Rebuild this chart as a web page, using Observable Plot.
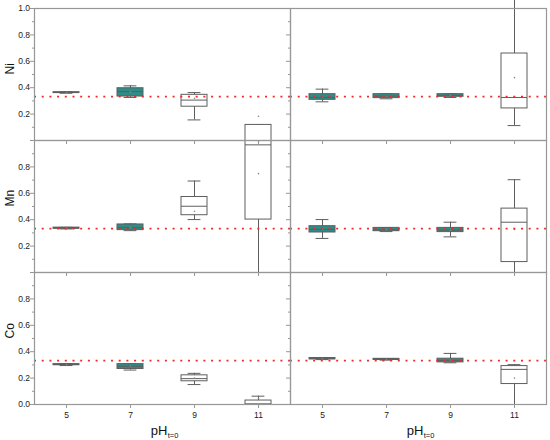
<!DOCTYPE html>
<html><head><meta charset="utf-8">
<script src="https://cdn.jsdelivr.net/npm/d3@7"></script>
<script src="https://cdn.jsdelivr.net/npm/@observablehq/plot@0.6"></script>
<style>body{margin:0;background:#fff} #chart{width:550px;height:440px;overflow:hidden}</style>
</head><body><div id="chart"></div>
<script>
const phLevels = ["5", "7", "9", "11"];
const elements = ["Ni", "Mn", "Co"];
const panels = ["left", "right"];
const refValue = 0.333;

// per pH: [lowWhisker, q1, median, q3, highWhisker, mean]
const niLeft = [
  [0.358, 0.360, 0.363, 0.366, 0.368, 0.363],
  [0.326, 0.333, 0.371, 0.396, 0.414, 0.368],
  [0.156, 0.256, 0.306, 0.346, 0.363, 0.320],
  null
];
const niRight = [
  [0.293, 0.308, 0.326, 0.351, 0.389, 0.330],
  [0.316, 0.321, 0.336, 0.351, 0.353, 0.335],
  [0.326, 0.331, 0.343, 0.351, 0.353, 0.342],
  [0.113, 0.243, 0.326, 0.659, 1.080, 0.476]
];
const mnLeft = [
  [0.330, 0.332, 0.336, 0.340, 0.342, 0.336],
  [0.317, 0.321, 0.340, 0.364, 0.368, 0.340],
  [0.401, 0.434, 0.502, 0.572, 0.693, 0.464],
  [0.000, 0.401, 0.967, 1.118, 1.118, 0.749]
];
const mnRight = [
  [0.258, 0.303, 0.326, 0.351, 0.401, 0.330],
  [0.310, 0.313, 0.323, 0.338, 0.340, 0.325],
  [0.270, 0.306, 0.321, 0.338, 0.381, 0.320],
  [0.000, 0.079, 0.381, 0.484, 0.703, 0.326]
];
const coLeft = [
  [0.295, 0.298, 0.302, 0.306, 0.310, 0.302],
  [0.261, 0.269, 0.290, 0.306, 0.308, 0.290],
  [0.151, 0.176, 0.196, 0.221, 0.236, 0.200],
  [0.000, 0.000, 0.003, 0.030, 0.063, 0.045]
];
const coRight = [
  [0.340, 0.342, 0.347, 0.352, 0.354, 0.347],
  [0.336, 0.338, 0.342, 0.346, 0.348, 0.342],
  [0.316, 0.319, 0.334, 0.347, 0.387, 0.335],
  [0.000, 0.155, 0.266, 0.291, 0.302, 0.200]
];
const boxFillLeft = ["teal", "teal", "white", "white"];
const boxFillRight = ["teal", "teal", "teal", "white"];

// extra single markers (max / percentile points)
const extraElement = ["Mn", "Mn"];
const extraPanel = ["left", "left"];
const extraPh = ["11", "11"];
const extraValue = [1.183, 0.99];

const majorTicks = [0, 0.2, 0.4, 0.6, 0.8, 1.0];
const minorTicks = [0.1, 0.3, 0.5, 0.7, 0.9];
const niTickLabels = ["0.2", "0.4", "0.6", "0.8", "1.0"];
const mnTickLabels = ["0.2", "0.4", "0.6", "0.8"];
const coTickLabels = ["0.0", "0.2", "0.4", "0.6", "0.8"];

const TEAL = "#2f8c87";
const groups = [
  ["Ni", "left", niLeft, boxFillLeft], ["Ni", "right", niRight, boxFillRight],
  ["Mn", "left", mnLeft, boxFillLeft], ["Mn", "right", mnRight, boxFillRight],
  ["Co", "left", coLeft, boxFillLeft], ["Co", "right", coRight, boxFillRight]
];
const boxes = [];
for (const [element, panel, stats, fills] of groups) {
  stats.forEach((s, i) => {
    if (!s) return;
    boxes.push({element, panel, ph: phLevels[i], lo: s[0], q1: s[1], med: s[2], q3: s[3], hi: s[4], mean: s[5],
      fill: fills[i] === "teal" ? TEAL : "white"});
  });
}
const extras = extraValue.map((v, i) => ({element: extraElement[i], panel: extraPanel[i], ph: extraPh[i], v}));
const yLabels = [
  ...niTickLabels.map(l => ({element: "Ni", panel: "left", v: +l, label: l})),
  ...mnTickLabels.map(l => ({element: "Mn", panel: "left", v: +l, label: l})),
  ...coTickLabels.map(l => ({element: "Co", panel: "left", v: +l, label: l}))
];

const GRAY = "#979797";
const BOXSTROKE = "#5e5e5e";
const chart = Plot.plot({
  width: 550, height: 440,
  marginTop: 7, marginBottom: 36, marginLeft: 33, marginRight: 4,
  style: {fontFamily: "'Liberation Sans', Arial, sans-serif", background: "white", overflow: "visible"},
  fx: {domain: panels, padding: 0, axis: null},
  fy: {domain: elements, padding: 0, axis: null},
  x: {type: "band", domain: phLevels, paddingInner: 0.6, paddingOuter: 0.3, axis: null},
  y: {domain: [0, 1], axis: null},
  marks: [
    Plot.ruleX(boxes, {fx: "panel", fy: "element", x: "ph", y1: "lo", y2: "hi", stroke: BOXSTROKE, strokeWidth: 1}),
    Plot.tickY(boxes, {fx: "panel", fy: "element", x: "ph", y: "lo", stroke: BOXSTROKE, inset: 6.6}),
    Plot.tickY(boxes, {fx: "panel", fy: "element", x: "ph", y: "hi", stroke: BOXSTROKE, inset: 6.6}),
    Plot.barY(boxes, {fx: "panel", fy: "element", x: "ph", y1: "q1", y2: "q3", fill: "fill", stroke: BOXSTROKE, strokeWidth: 1}),
    Plot.tickY(boxes, {fx: "panel", fy: "element", x: "ph", y: "med", stroke: BOXSTROKE, strokeWidth: 1}),
    Plot.dot(boxes, {fx: "panel", fy: "element", x: "ph", y: "mean", r: 0.8, fill: "#888", stroke: null}),
    Plot.dot(extras, {fx: "panel", fy: "element", x: "ph", y: "v", r: 0.8, fill: "#888", stroke: null}),
    Plot.ruleY([refValue], {stroke: "#ee2b2b", strokeWidth: 1.8, strokeDasharray: "2,5.7"}),
    Plot.axisY(majorTicks, {facetAnchor: null, anchor: "left", tickSize: 4, fill: "none", stroke: GRAY, label: null}),
    Plot.axisY(minorTicks, {facetAnchor: null, anchor: "left", tickSize: 2, fill: "none", stroke: GRAY, label: null}),
    Plot.axisX({facetAnchor: null, anchor: "bottom", tickSize: 4, fill: "none", stroke: GRAY, label: null}),
    Plot.axisX({facetAnchor: "bottom", anchor: "bottom", tickSize: 0, tickPadding: 7, fontSize: 8.5, fill: "#222", label: null}),
    Plot.text(yLabels, {fx: "panel", fy: "element", y: "v", text: "label", frameAnchor: "left", textAnchor: "end", dx: -4.5, fontSize: 8.5, fill: "#222"}),
    Plot.text(elements, {fx: () => "left", fy: d => d, text: d => d, frameAnchor: "left", rotate: -90, dx: -24, fontSize: 12, fill: "#111"}),
    Plot.text(panels, {fx: d => d, fy: () => "Co", text: () => "pH", frameAnchor: "bottom", textAnchor: "end", lineAnchor: "bottom", dx: 4.8, dy: 30.5, fontSize: 13, fill: "#111"}),
    Plot.text(panels, {fx: d => d, fy: () => "Co", text: () => "t=0", frameAnchor: "bottom", textAnchor: "start", lineAnchor: "bottom", dx: 5.2, dy: 33, fontSize: 7.5, fill: "#111"}),
    Plot.frame({stroke: GRAY, strokeWidth: 1.2})
  ]
});
document.getElementById("chart").appendChild(chart);
</script>
</body></html>
